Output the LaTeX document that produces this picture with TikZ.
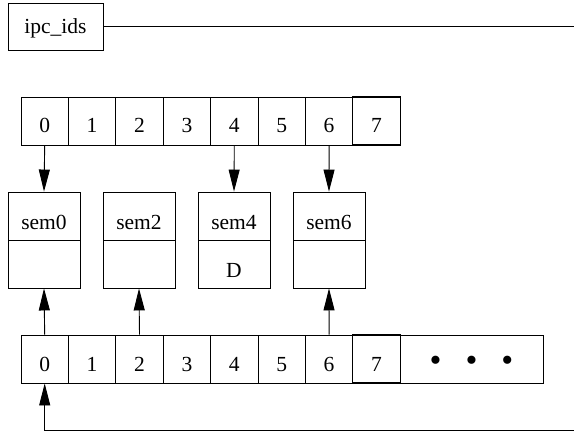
\documentclass[tikz,border=0pt]{standalone}
\usepackage{fontspec}
\setmainfont{Liberation Serif}
\usetikzlibrary{arrows.meta}
\tikzset{
  txt/.style={font=\fontsize{21.5}{26}\selectfont, text height=24pt, text depth=0pt},
  cell/.style={draw, minimum width=47.4pt, minimum height=48pt, inner sep=0pt, anchor=center, txt},
  lastcell/.style={cell, line width=1.05pt},
  sembox/.style={draw, minimum width=72pt, minimum height=48pt, inner sep=0pt, anchor=center, txt, text height=27pt},
  conn/.style={-{Triangle[length=22pt,width=11pt]}},
}
\begin{document}
\begin{tikzpicture}[x=1pt,y=-1pt,line width=0.9pt]
\useasboundingbox (0,0) rectangle (574,433);
\node[cell, minimum width=95pt, minimum height=47pt, text height=14pt] (ipc) at (55.5,26.5) {ipc\_ids};
\coordinate (ipcend) at (574,26.5);
\draw (ipc.east) -- (ipcend);
% top array
\foreach \i in {0,...,6} {
  \node[cell] (t\i) at ({21+47.4*(\i+0.5)},121) {\i};
}
\node[lastcell] (t7) at ({21+47.4*7.5},121) {7};
% bottom array
\foreach \i in {0,...,6} {
  \node[cell] (b\i) at ({21+47.4*(\i+0.5)},359) {\i};
}
\node[lastcell] (b7) at ({21+47.4*7.5},359) {7};
\node[cell, minimum width=143pt, font=\fontsize{34}{36}\selectfont, text height=25pt] (bdots) at (471.5,359) {\textbullet\hspace{24pt}\textbullet\hspace{24pt}\textbullet};
% sem boxes
\foreach \n/\x/\t in {0/44/,2/139/,4/234/D,6/329/} {
  \node[sembox] (s\n top) at (\x,216) {sem\n};
  \node[sembox] (s\n bot) at (\x,264) {\t};
}
% arrows
\draw[conn] (t0.south) -- (s0top.north);
\draw[conn] (t4.south) -- (s4top.north);
\draw[conn] (t6.south) -- (s6top.north);
\draw[conn] (b0.north) -- (s0bot.south);
\draw[conn] (b2.north) -- (s2bot.south);
\draw[conn] (b6.north) -- (s6bot.south);
\coordinate (loopend) at (574,430);
\draw[conn] (loopend) -| (b0.south);
\end{tikzpicture}
\end{document}
